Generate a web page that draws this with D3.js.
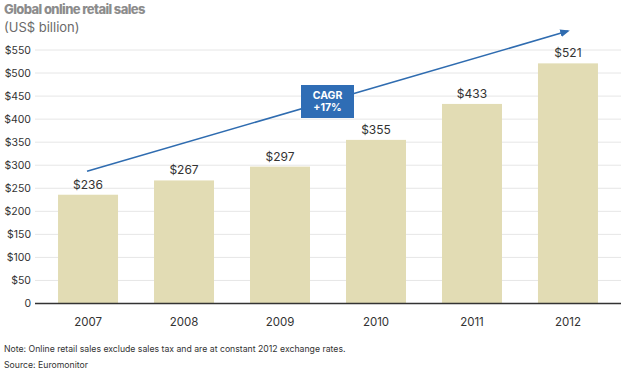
<!DOCTYPE html>
<html>
<head>
<meta charset="utf-8">
<script src="https://cdn.jsdelivr.net/npm/d3@7"></script>
<style>
  body { margin: 0; background: #fff; }
  svg { display: block; font-family: Inter, "Noto Sans", sans-serif; }
</style>
</head>
<body>
<script>
// Chart data
var years = ["2007", "2008", "2009", "2010", "2011", "2012"];
var sales = [236, 267, 297, 355, 433, 521];
var yTicks = [0, 50, 100, 150, 200, 250, 300, 350, 400, 450, 500, 550];
// Trend arrow: from first year to last year, in US$ billion
var trendYears = ["2007", "2012"];
var trendValues = [287, 591];
var cagrLabel = ["CAGR", "+17%"];

window.onload = drawChart();
function drawChart(){

  var width = 621,
      height = 374;

  var svg = d3.select("body")
      .append("svg")
      .attr("width", width)
      .attr("height", height);

  var x = d3.scaleBand()
      .domain(years)
      .range([35, 621])
      .paddingInner(0.375)
      .paddingOuter(0.24);

  var y = d3.scaleLinear()
      .domain([0, 550])
      .range([303.5, 50]);

  // Title
  svg.append("text")
      .attr("x", 4)
      .attr("y", 14)
      .attr("font-size", 13)
      .attr("font-weight", 800)
      .attr("letter-spacing", -0.6)
      .attr("fill", "#8c8c8c")
      .text("Global online retail sales");

  svg.append("text")
      .attr("x", 4)
      .attr("y", 32)
      .attr("font-size", 13)
      .attr("fill", "#6a6a6a")
      .text("(US$ billion)");

  // Gridlines
  svg.selectAll(".grid")
      .data(yTicks.filter(function(d){ return d > 0; }))
      .enter()
      .append("line")
      .attr("class", "grid")
      .attr("x1", 35)
      .attr("x2", width)
      .attr("y1", function(d){ return y(d); })
      .attr("y2", function(d){ return y(d); })
      .attr("stroke", "#e6e6e6")
      .attr("stroke-width", 1);

  // Y axis labels
  var yAxis = svg.append("g")
      .attr("transform", "translate(31,0)")
      .call(d3.axisLeft(y)
        .tickValues(yTicks)
        .tickSize(0)
        .tickPadding(0)
        .tickFormat(function(d){ return d === 0 ? "0" : "$" + d; }));
  yAxis.select(".domain").remove();
  yAxis.selectAll("text")
      .attr("font-size", 10.5)
      .attr("fill", "#333")
      .attr("font-family", "Inter, sans-serif");

  // Bars
  svg.selectAll(".bar")
      .data(sales)
      .enter()
      .append("rect")
      .attr("class", "bar")
      .attr("x", function(d, i){ return x(years[i]); })
      .attr("width", x.bandwidth())
      .attr("y", function(d){ return y(d); })
      .attr("height", function(d){ return y(0) - y(d); })
      .attr("fill", "#e2dcb4");

  // Value labels
  svg.selectAll(".val")
      .data(sales)
      .enter()
      .append("text")
      .attr("class", "val")
      .attr("x", function(d, i){ return x(years[i]) + x.bandwidth() / 2; })
      .attr("y", function(d){ return y(d) - 6; })
      .attr("text-anchor", "middle")
      .attr("font-size", 12)
      .attr("fill", "#333")
      .text(function(d){ return "$" + d; });

  // Baseline / x axis
  var xAxis = svg.append("g")
      .attr("transform", "translate(0," + y(0) + ")")
      .call(d3.axisBottom(x).tickSize(0).tickPadding(14));
  xAxis.select(".domain")
      .attr("d", "M35,0H" + width)
      .attr("stroke", "#333")
      .attr("stroke-width", 1.6);
  xAxis.selectAll("text")
      .attr("font-size", 11.5)
      .attr("fill", "#333")
      .attr("font-family", "Inter, sans-serif");

  // Trend arrow
  svg.append("defs").append("marker")
      .attr("id", "arrowhead")
      .attr("viewBox", "0 0 10 10")
      .attr("refX", 8)
      .attr("refY", 5)
      .attr("markerWidth", 6)
      .attr("markerHeight", 6)
      .attr("markerUnits", "strokeWidth")
      .attr("orient", "auto")
      .append("path")
      .attr("d", "M0,1L10,5L0,9Z")
      .attr("fill", "#2f6cb0");

  var cx = function(yr){ return x(yr) + x.bandwidth() / 2; };
  svg.append("line")
      .attr("x1", cx(trendYears[0]) - 1)
      .attr("y1", y(trendValues[0]))
      .attr("x2", cx(trendYears[1]))
      .attr("y2", y(trendValues[1]))
      .attr("stroke", "#2f6cb0")
      .attr("stroke-width", 1.6)
      .attr("marker-end", "url(#arrowhead)");

  // CAGR box
  svg.append("rect")
      .attr("x", 301)
      .attr("y", 85)
      .attr("width", 53)
      .attr("height", 33)
      .attr("fill", "#2f6db5");

  svg.selectAll(".cagr")
      .data(cagrLabel)
      .enter()
      .append("text")
      .attr("class", "cagr")
      .attr("x", 327.5)
      .attr("y", function(d, i){ return 99 + i * 12; })
      .attr("text-anchor", "middle")
      .attr("font-size", 10.5)
      .attr("font-weight", 700)
      .attr("fill", "#fff")
      .text(function(d){ return d; });

  // Footnotes
  svg.append("text")
      .attr("x", 4)
      .attr("y", 352)
      .attr("font-size", 8.7)
      .attr("fill", "#333")
      .text("Note: Online retail sales exclude sales tax and are at constant 2012 exchange rates.");

  svg.append("text")
      .attr("x", 4)
      .attr("y", 368)
      .attr("font-size", 8.7)
      .attr("fill", "#333")
      .text("Source: Euromonitor");
};
</script>
</body>
</html>
